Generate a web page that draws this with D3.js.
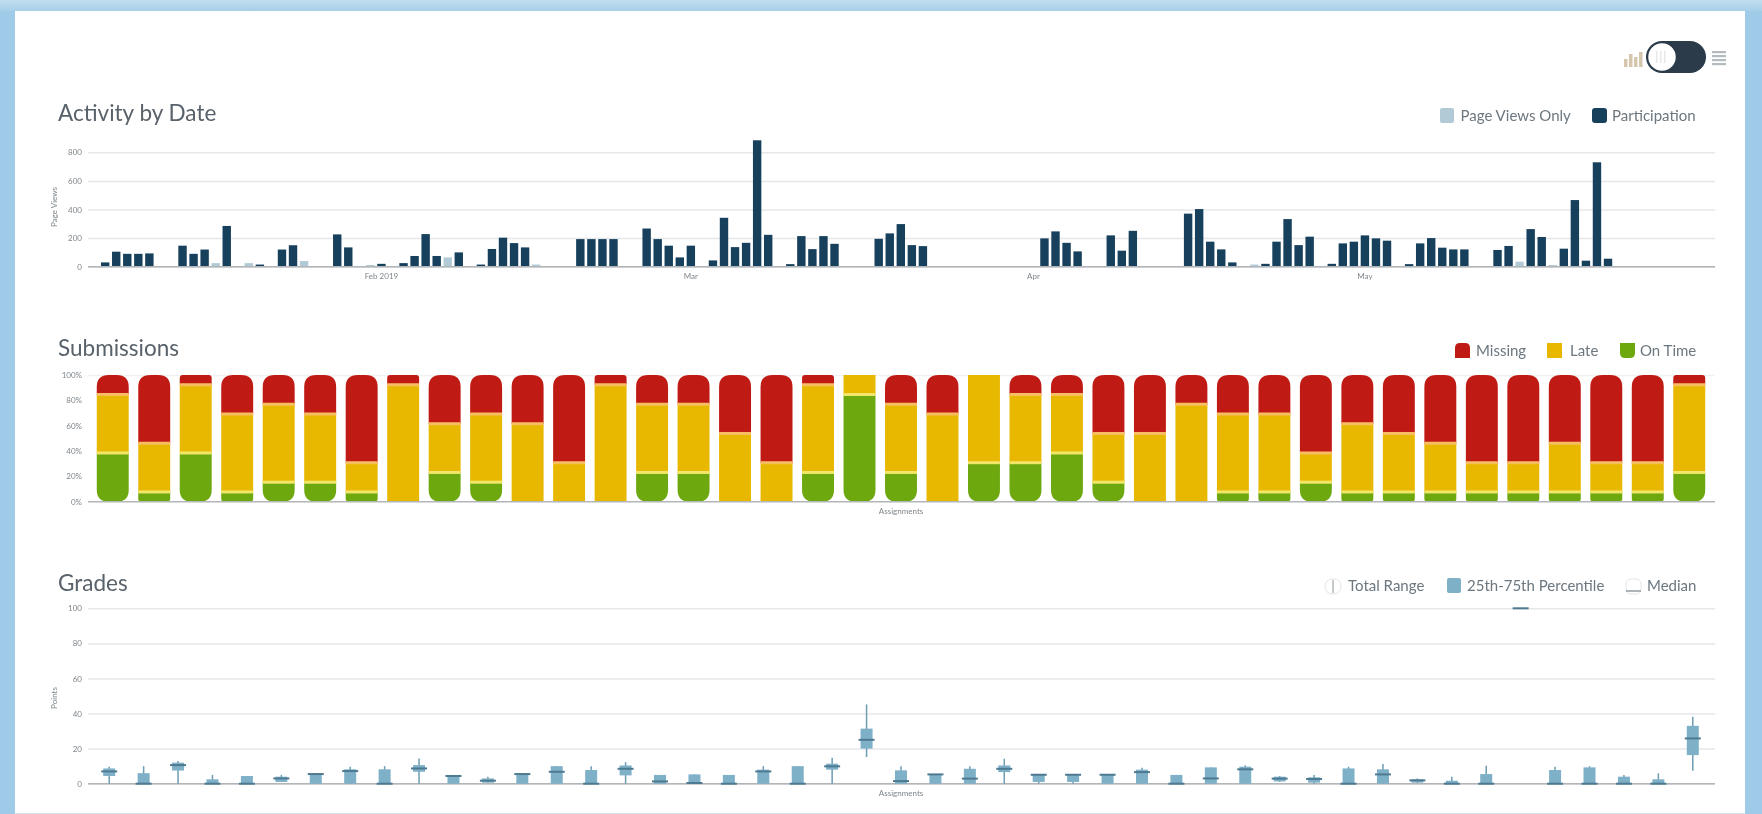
<!DOCTYPE html>
<html>
<head>
<meta charset="utf-8">
<script src="https://cdn.jsdelivr.net/npm/d3@7"></script>
<style>
  html, body { margin: 0; padding: 0; background: #a0cbe8; overflow: hidden; }
  svg { display: block; font-family: Lato, sans-serif; filter: blur(0.75px); }
  .title { font-size: 22.5px; fill: #59626a; }
  .legend { font-size: 15px; fill: #6c777f; }
  .tick text, .small { font-size: 8px; fill: #7f868b; font-family: Lato, sans-serif; }
  .grid line { stroke: #e6e7e8; stroke-width: 1.5; }
  .grid .domain { display: none; }
  .base .domain { stroke: #b3b6b9; stroke-width: 1.6; }
  .base .tick line { display: none; }
</style>
</head>
<body>
<svg id="chart" width="1762" height="814"></svg>
<script>
// activity by date, one entry per day from 19 Jan 2019
const participation = [
  0,30,105,90,90,93,0,0,147,90,
  120,0,285,0,0,15,0,120,150,0,
  0,0,226,135,0,0,20,0,25,75,
  228,75,0,100,0,15,124,203,165,135,
  0,0,0,0,193,193,193,193,0,0,
  267,193,147,65,147,0,44,342,137,167,
  884,223,0,18,214,123,214,160,0,0,
  0,195,233,298,151,144,0,0,0,0,
  0,0,0,0,0,0,198,247,167,107,
  0,0,219,112,251,0,0,0,0,371,
  403,175,121,30,0,0,20,175,333,151,
  210,0,20,163,175,219,198,182,0,18,
  163,200,133,121,121,0,0,117,145,0,
  263,208,0,126,466,42,730,56,0,0,
  0,0,0,0,0,0,0
];
const pageViewsOnly = [
  0,0,0,0,0,0,0,0,0,0,
  0,25,0,0,25,0,0,0,0,40,
  0,0,0,0,0,12,0,0,0,0,
  0,0,65,0,0,0,0,0,0,0,
  15,0,0,0,0,0,0,0,0,0,
  0,0,0,0,0,0,0,0,0,0,
  0,0,0,0,0,0,0,0,5,0,
  0,0,0,0,0,0,0,0,0,0,
  0,0,0,0,0,0,0,0,0,0,
  0,0,0,0,0,0,0,0,0,0,
  0,0,0,0,0,15,0,0,0,0,
  0,0,0,0,0,0,0,0,0,0,
  0,0,0,0,0,5,0,0,0,35,
  0,0,12,0,0,0,0,0,0,0,
  0,0,0,0,0,0,0
];
const activityTicks = [0, 200, 400, 600, 800];
const monthTickDates = [new Date(2019,1,14), new Date(2019,2,14), new Date(2019,3,14), new Date(2019,4,14)];
const monthLabels = ["Feb 2019", "Mar", "Apr", "May"];

// submissions, number of students per assignment
const onTime =  [5,1,5,1,2,2,1,0,3,2,0,0,0,3,3,0,0,3,11,3,0,4,4,5,2,0,0,1,1,2,1,1,1,1,1,1,1,1,3];
const late =    [6,5,7,8,8,7,3,12,5,7,8,4,12,7,7,7,4,9,2,7,9,9,7,6,5,7,10,8,8,3,7,6,5,3,3,5,3,3,9];
const missing = [2,7,1,4,3,4,9,1,5,4,5,9,1,3,3,6,9,1,0,3,4,0,2,2,6,6,3,4,4,8,5,6,7,9,9,7,9,9,1];
const percentTicks = [0, 20, 40, 60, 80, 100];

// grades, one box per assignment
const gradeMin =    [0,0,0,0,0,1,0,0,0,0, 0,0.6,0,0,0,0,0,0,0,0, 0,0,15.2,0,0,0,0,0,0,0, 0,0,0,0,1,0,0,0,0.3,0, 0,100,0,0,0,0,7.4];
const gradeQ1 =     [4.4,0,7.5,0,0,1,0,0,0,6.8, 0,0.6,0,0,0,4.75,0,0,0,0, 0,8,20,0,0,0,6.6,1,1,0, 0,0,0,0,1.3,0.6,0,0,0.6,0, 0,100,0,0,0,0,16.3];
const gradeMedian = [7,0,10.6,0,0,3,5.5,7.2,0,8.7, 4.4,1.7,5.5,6.8,0,8.5,1.3,0.4,0,7, 0,9.9,25,1.5,5.3,2.9,8.5,5.1,5.1,5.1, 6.6,0,3,8.2,2.9,2.7,0,5.3,1.9,0, 0,100,0,0,0,0,25.8];
const gradeQ3 =     [8.7,6,12,2.5,4.4,4,5.5,8.2,8.2,10.6, 4.4,3,5.5,10,7.8,10.4,5,5.3,5,8, 10,11.4,31.4,7.6,5.3,8.5,10.4,5.1,5.1,5.1, 8,5,9.3,9.7,4,3.6,8.7,8.2,2.5,1.7, 5.5,100,7.8,9.3,4,2.5,33];
const gradeMax =    [9.7,10,13,5,4.4,5,5.5,9.7,10,14.4, 4.75,4,5.5,10,10,12.3,5,5.3,5,10, 10,14.8,45.2,9.9,5.3,9.9,14.2,5.1,5.1,5.1, 9.1,5,9.3,10.5,4.4,5,9.7,11.2,3,4, 10.3,100,9.7,10,5,5.9,38.2];
const gradeTicks = [0, 20, 40, 60, 80, 100];

const colors = { participation: "#17405c", pageViews: "#b2cad6", missing: "#c01a14", late: "#e8b800", onTime: "#6ea80f", box: "#7eb0c8", whisker: "#6d9cb3", median: "#4d7a90", seamTop: "#f7bd62", seamLow: "#f1e66a" };

const svg = d3.select("#chart");
const plotLeft = 88, plotRight = 1715;

// frame
svg.append("rect").attr("width", 1762).attr("height", 814).attr("fill", "#a0cbe8");
const topFade = svg.append("defs").append("linearGradient").attr("id", "topFade").attr("x2", 0).attr("y2", 1);
topFade.append("stop").attr("offset", 0).attr("stop-color", "#c3ddef");
topFade.append("stop").attr("offset", 1).attr("stop-color", "#a6cfe9");
svg.append("rect").attr("width", 1762).attr("height", 11).attr("fill", "url(#topFade)");
svg.append("rect").attr("x", 15).attr("y", 11).attr("width", 1730).attr("height", 802).attr("fill", "#fff");
svg.append("rect").attr("x", 15).attr("y", 813).attr("width", 1730).attr("height", 1).attr("fill", "#d2e4f0");

// titles
function title(text, y) {
  svg.append("text").attr("class", "title").attr("x", 58).attr("y", y).text(text);
}
title("Activity by Date", 121);
title("Submissions", 356);
title("Grades", 591);

function legendText(text, x, y) {
  svg.append("text").attr("class", "legend").attr("x", x).attr("y", y + 5).text(text);
}

function leftAxis(scale, ticks, fmt) {
  return svg.append("g").attr("class", "grid").attr("transform", `translate(${plotLeft},0)`)
    .call(d3.axisLeft(scale).tickValues(ticks).tickFormat(fmt).tickSize(-(plotRight - plotLeft)).tickPadding(6));
}

function smallText(text, x, y, rotate) {
  const t = svg.append("text").attr("class", "small").attr("text-anchor", "middle").text(text);
  if (rotate) t.attr("transform", `translate(${x},${y}) rotate(-90)`);
  else t.attr("x", x).attr("y", y);
}

// ---------- activity by date ----------
const days = d3.timeDay.range(new Date(2019, 0, 19), new Date(2019, 0, 19 + participation.length));
const xDay = d3.scaleBand().domain(days).range([88.6, 1713]).paddingInner(0.24).paddingOuter(0.12);
const yActivity = d3.scaleLinear().domain([0, 800]).range([266.7, 152.3]);

leftAxis(yActivity, activityTicks, d => d);
smallText("Page Views", 57, 207, true);

svg.append("g").selectAll("rect").data(days).join("rect")
  .attr("x", d => xDay(d))
  .attr("width", xDay.bandwidth())
  .attr("y", (d, i) => yActivity(pageViewsOnly[i]))
  .attr("height", (d, i) => yActivity(0) - yActivity(pageViewsOnly[i]))
  .attr("fill", colors.pageViews);
svg.append("g").selectAll("rect").data(days).join("rect")
  .attr("x", d => xDay(d))
  .attr("width", xDay.bandwidth())
  .attr("y", (d, i) => yActivity(participation[i]))
  .attr("height", (d, i) => yActivity(0) - yActivity(participation[i]))
  .attr("fill", colors.participation);

svg.append("g").attr("class", "base").attr("transform", `translate(0,${yActivity(0)})`)
  .call(d3.axisBottom(xDay).tickValues(monthTickDates).tickSize(0).tickPadding(7)
    .tickFormat((d, i) => monthLabels[i]))
  .select(".domain").attr("d", `M${plotLeft},0H${plotRight}`);

svg.append("rect").attr("x", 1440).attr("y", 108).attr("width", 14).attr("height", 15).attr("rx", 2).attr("fill", colors.pageViews);
legendText("Page Views Only", 1460.5, 116);
svg.append("rect").attr("x", 1592).attr("y", 108).attr("width", 15).attr("height", 15).attr("rx", 3).attr("fill", colors.participation);
legendText("Participation", 1612, 116);

// ---------- submissions ----------
const assignments = d3.range(1, onTime.length + 1);
const xSub = d3.scaleBand().domain(assignments).range([92, 1710]).paddingInner(0.23).paddingOuter(0.115);
const ySub = d3.scaleLinear().domain([0, 100]).range([501.7, 375]);
const perStudent = 100 / 13;

// only the top line of the grid shows here, the rest sits behind the bars
leftAxis(ySub, percentTicks, d => d + "%").selectAll(".tick line").attr("stroke-opacity", d => d === 100 ? 0.6 : 0);

const subRows = assignments.map((a, i) => ({ a, onTime: onTime[i] * perStudent, late: late[i] * perStudent, missing: missing[i] * perStudent }));
const subStack = d3.stack().keys(["onTime", "late", "missing"])(subRows);

// corners round only on the very top and very bottom segment
function segment(x, w, y0, y1, corners, radius) {
  const h = y1 - y0;
  const r = radius || (h < 12 ? 3 : 12);
  const p = d3.path();
  const rt = corners === "top" ? r : 0, rb = corners === "bottom" ? r : 0;
  p.moveTo(x + rt, y0);
  p.lineTo(x + w - rt, y0);
  if (rt) p.quadraticCurveTo(x + w, y0, x + w, y0 + rt);
  p.lineTo(x + w, y1 - rb);
  if (rb) p.quadraticCurveTo(x + w, y1, x + w - rb, y1);
  p.lineTo(x + rb, y1);
  if (rb) p.quadraticCurveTo(x, y1, x, y1 - rb);
  p.lineTo(x, y0 + rt);
  if (rt) p.quadraticCurveTo(x, y0, x + rt, y0);
  p.closePath();
  return p.toString();
}

subStack.forEach(layer => {
  const corners = layer.key === "missing" ? "top" : layer.key === "onTime" ? "bottom" : "none";
  svg.append("g").selectAll("path").data(layer.filter(d => d[1] > d[0])).join("path")
    .attr("fill", colors[layer.key])
    .attr("d", d => segment(xSub(d.data.a), xSub.bandwidth(), ySub(d[1]), ySub(d[0]), corners));
});

// pale seam where two segments meet
function seams(rows, level, fill) {
  svg.append("g").selectAll("rect").data(rows).join("rect")
    .attr("x", d => xSub(d.a)).attr("width", xSub.bandwidth())
    .attr("y", d => ySub(level(d)) - 1.5).attr("height", 3)
    .attr("fill", fill);
}
seams(subRows.filter(d => d.onTime > 0 && d.late > 0), d => d.onTime, colors.seamLow);
seams(subRows.filter(d => d.missing > 0 && d.late > 0), d => d.onTime + d.late, colors.seamTop);

svg.append("g").attr("class", "base").attr("transform", `translate(0,${ySub(0)})`)
  .call(d3.axisBottom(xSub).tickValues([]).tickSize(0))
  .select(".domain").attr("d", `M${plotLeft},0H${plotRight}`);
smallText("Assignments", 901, 514);

svg.append("path").attr("d", segment(1455, 15, 343, 358, "top", 5)).attr("fill", colors.missing);
legendText("Missing", 1476, 351);
svg.append("rect").attr("x", 1547).attr("y", 343).attr("width", 15).attr("height", 15).attr("fill", colors.late);
legendText("Late", 1570, 351);
svg.append("path").attr("d", segment(1620, 15, 343, 358, "bottom", 5)).attr("fill", colors.onTime);
legendText("On Time", 1640, 351);

// ---------- grades ----------
const gradeIds = d3.range(gradeMin.length);
const xGrade = d3.scaleBand().domain(gradeIds).range([92, 1710]);
const yGrade = d3.scaleLinear().domain([0, 100]).range([783.7, 608.3]);

leftAxis(yGrade, gradeTicks, d => d);
smallText("Points", 57, 698, true);

svg.append("g").attr("class", "base").attr("transform", `translate(0,${yGrade(0)})`)
  .call(d3.axisBottom(xGrade).tickValues([]).tickSize(0))
  .select(".domain").attr("d", `M${plotLeft},0H${plotRight}`);
smallText("Assignments", 901, 796);

const cx = i => xGrade(i) + xGrade.bandwidth() / 2;
const boxG = svg.append("g");
boxG.selectAll("line.whisk").data(gradeIds).join("line").attr("class", "whisk")
  .attr("x1", cx).attr("x2", cx)
  .attr("y1", i => yGrade(gradeMin[i])).attr("y2", i => yGrade(gradeMax[i]))
  .attr("stroke", colors.whisker).attr("stroke-width", 1.5);
boxG.selectAll("rect").data(gradeIds).join("rect")
  .attr("x", i => cx(i) - 6).attr("width", 12)
  .attr("y", i => yGrade(gradeQ3[i]))
  .attr("height", i => yGrade(gradeQ1[i]) - yGrade(gradeQ3[i]))
  .attr("fill", colors.box);
boxG.selectAll("line.med").data(gradeIds).join("line").attr("class", "med")
  .attr("x1", i => cx(i) - 8).attr("x2", i => cx(i) + 8)
  .attr("y1", i => yGrade(gradeMedian[i])).attr("y2", i => yGrade(gradeMedian[i]))
  .attr("stroke", colors.median).attr("stroke-width", 2);

// legend icons
svg.append("rect").attr("x", 1325).attr("y", 579).attr("width", 16).attr("height", 15).attr("rx", 7).attr("fill", "none").attr("stroke", "#e2e4e6");
svg.append("line").attr("x1", 1333).attr("x2", 1333).attr("y1", 580).attr("y2", 593).attr("stroke", "#8a9399").attr("stroke-width", 1);
legendText("Total Range", 1348, 586);
svg.append("rect").attr("x", 1447).attr("y", 578).attr("width", 14).attr("height", 15).attr("rx", 2).attr("fill", colors.box);
legendText("25th-75th Percentile", 1467, 586);
svg.append("rect").attr("x", 1626).attr("y", 579).attr("width", 15).attr("height", 15).attr("rx", 5).attr("fill", "none").attr("stroke", "#e2e4e6");
svg.append("line").attr("x1", 1626).attr("x2", 1641).attr("y1", 591).attr("y2", 591).attr("stroke", "#8a9399").attr("stroke-width", 1.4);
legendText("Median", 1647, 586);

// ---------- view toggle ----------
svg.append("rect").attr("x", 1646).attr("y", 41).attr("width", 60).attr("height", 32).attr("rx", 16).attr("fill", "#2c3b4a");
svg.append("circle").attr("cx", 1662).attr("cy", 57).attr("r", 14.5).attr("fill", "#fff").attr("stroke", "#2c3b4a").attr("stroke-width", 1.5);
svg.append("g").selectAll("rect").data([1656, 1660, 1664]).join("rect")
  .attr("x", d => d).attr("y", 51).attr("width", 1.5).attr("height", 12).attr("fill", "#e8e8e8");
// bar chart icon on the left
svg.append("g").selectAll("rect").data([[1624, 8], [1629, 13], [1634, 10], [1639, 15]]).join("rect")
  .attr("x", d => d[0]).attr("y", d => 67 - d[1]).attr("width", 3.5).attr("height", d => d[1]).attr("fill", "#d6c6ae");
// table icon on the right
svg.append("g").selectAll("rect").data([51, 55, 59, 63]).join("rect")
  .attr("x", 1712).attr("y", d => d).attr("width", 14).attr("height", 2.2).attr("fill", "#b4bbbf");
</script>
</body>
</html>
